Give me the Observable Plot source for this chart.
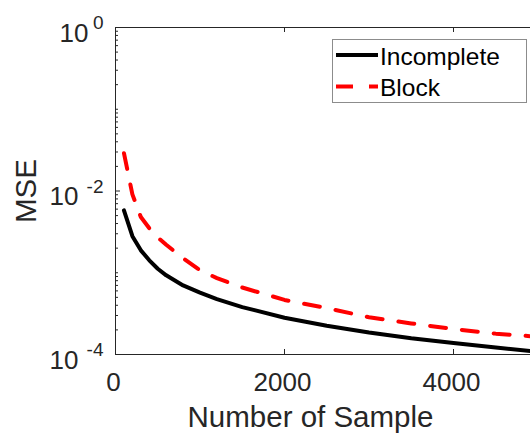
<!DOCTYPE html>
<html><head><meta charset="utf-8">
<script src="https://cdn.jsdelivr.net/npm/d3@7"></script>
<script src="https://cdn.jsdelivr.net/npm/@observablehq/plot@0.6"></script>
<style>
html,body{margin:0;padding:0;background:#fff;overflow:hidden;}
#wrap{position:relative;width:530px;height:434px;overflow:hidden;}
#wrap svg{overflow:hidden;}
#legend{position:absolute;left:332px;top:39px;}
</style></head><body><div id="wrap"></div>
<script>
// ---- data ----
const samples    = [100, 200, 300, 400, 500, 600, 800, 1000, 1200, 1500, 2000, 2500, 3000, 3500, 4000, 4500, 5000];
const incomplete = [5.8e-3, 2.8e-3, 1.88e-3, 1.42e-3, 1.12e-3, 9.3e-4, 7.0e-4, 5.7e-4, 4.75e-4, 3.8e-4, 2.82e-4, 2.25e-4, 1.86e-4, 1.58e-4, 1.38e-4, 1.22e-4, 1.08e-4];
const block      = [2.9e-2, 9.1e-3, 4.8e-3, 3.5e-3, 2.7e-3, 2.2e-3, 1.5e-3, 1.07e-3, 8.6e-4, 6.6e-4, 4.65e-4, 3.7e-4, 2.85e-4, 2.4e-4, 2.05e-4, 1.8e-4, 1.65e-4];
const seriesNames  = ["Incomplete", "Block"];
const seriesColors = ["#000000", "#ff0000"];
const xTicks = [0, 2000, 4000];
const yTicks = [1e-4, 1e-2, 1];
const yTickExponents = ["-4", "-2", "0"];
const xLabel = "Number of Sample";
const yLabel = "MSE";

// minor log ticks (tick positions of the log axis)
const yMinor = [];
for (let k = -4; k <= -1; k++) for (let m = 1; m <= 9; m++) {
  const v = m * Math.pow(10, k);
  if (!(m === 1 && (k === -4 || k === -2))) yMinor.push(v);
}

const W = 530, H = 434;
const mL = 115, mT = 27, mB = 80, mR = -7.5;
const frameW = W - mL - mR, frameH = H - mT - mB;
const axisColor = "#262626";
const font = '"Liberation Sans", Arial, Helvetica, sans-serif';

const rows = [];
samples.forEach((s, i) => {
  rows.push({x: s, y: incomplete[i], series: seriesNames[0]});
  rows.push({x: s, y: block[i], series: seriesNames[1]});
});

const yLabelMarks = [];
yTicks.forEach((t, i) => {
  const e = yTickExponents[i];
  yLabelMarks.push(Plot.text([t], {y: d => d, text: () => "10", frameAnchor: "left", textAnchor: "end", lineAnchor: "middle",
    dx: e.length > 1 ? -37 : -27, dy: 6, fontSize: 26, fill: axisColor}));
  yLabelMarks.push(Plot.text([t], {y: d => d, text: () => e, frameAnchor: "left", textAnchor: "end", lineAnchor: "middle",
    dx: -12, dy: -4.5, fontSize: 19, fill: axisColor}));
});

const chart = Plot.plot({
  width: W, height: H,
  marginLeft: mL, marginTop: mT, marginBottom: mB, marginRight: mR,
  style: {fontFamily: font, background: "white", color: axisColor, overflow: "hidden"},
  x: {domain: [0, 5000], axis: null},
  y: {type: "log", domain: [1e-4, 1], axis: null},
  marks: [
    Plot.line(rows.filter(d => d.series === seriesNames[0]), {x: "x", y: "y", stroke: seriesColors[0], strokeWidth: 4}),
    Plot.line(rows.filter(d => d.series === seriesNames[1]), {x: "x", y: "y", stroke: seriesColors[1], strokeWidth: 4, strokeDasharray: "16,16"}),
    Plot.frame({stroke: axisColor, strokeWidth: 1}),
    Plot.tickY(yMinor, {y: d => d, stroke: axisColor, insetRight: frameW - 3}),
    Plot.tickY(yTicks, {y: d => d, stroke: axisColor, insetRight: frameW - 5}),
    Plot.tickX(xTicks.slice(1), {x: d => d, stroke: axisColor, insetTop: frameH - 5}),
    Plot.tickX(xTicks.slice(1), {x: d => d, stroke: axisColor, insetBottom: frameH - 5}),
    Plot.text(xTicks, {x: d => d, text: d => String(d), frameAnchor: "bottom", lineAnchor: "top",
      dy: 18, dx: -2, fontSize: 26, fill: axisColor}),
    ...yLabelMarks,
    Plot.text([xLabel], {text: d => d, frameAnchor: "bottom", textAnchor: "middle", lineAnchor: "middle",
      dx: 310 - (mL + frameW / 2), dy: 63.5, fontSize: 29.5, fill: axisColor}),
    Plot.text([yLabel], {text: d => d, frameAnchor: "left", textAnchor: "middle", lineAnchor: "middle",
      rotate: -90, dx: -89, fontSize: 29.5, fill: axisColor})
  ]
});
document.getElementById("wrap").appendChild(chart);

// legend overlay (inside the axes, top right)
const lg = d3.select("#wrap").append("svg").attr("id", "legend")
  .attr("width", 196).attr("height", 65).style("overflow", "visible");
lg.append("rect").attr("x", 0.5).attr("y", 0.5).attr("width", 194).attr("height", 63)
  .attr("fill", "white").attr("stroke", "#8c8c8c").attr("stroke-width", 1);
seriesNames.forEach((name, i) => {
  const ly = i === 0 ? 16 : 47.5;
  lg.append("line").attr("x1", 4).attr("x2", 46).attr("y1", ly).attr("y2", ly)
    .attr("stroke", seriesColors[i]).attr("stroke-width", 4)
    .attr("stroke-dasharray", i === 1 ? "17,16" : null);
  lg.append("text").attr("x", 48).attr("y", i === 0 ? 26 : 57).text(name)
    .attr("font-family", font).attr("font-size", 24.5).attr("fill", "#000");
});
</script></body></html>
